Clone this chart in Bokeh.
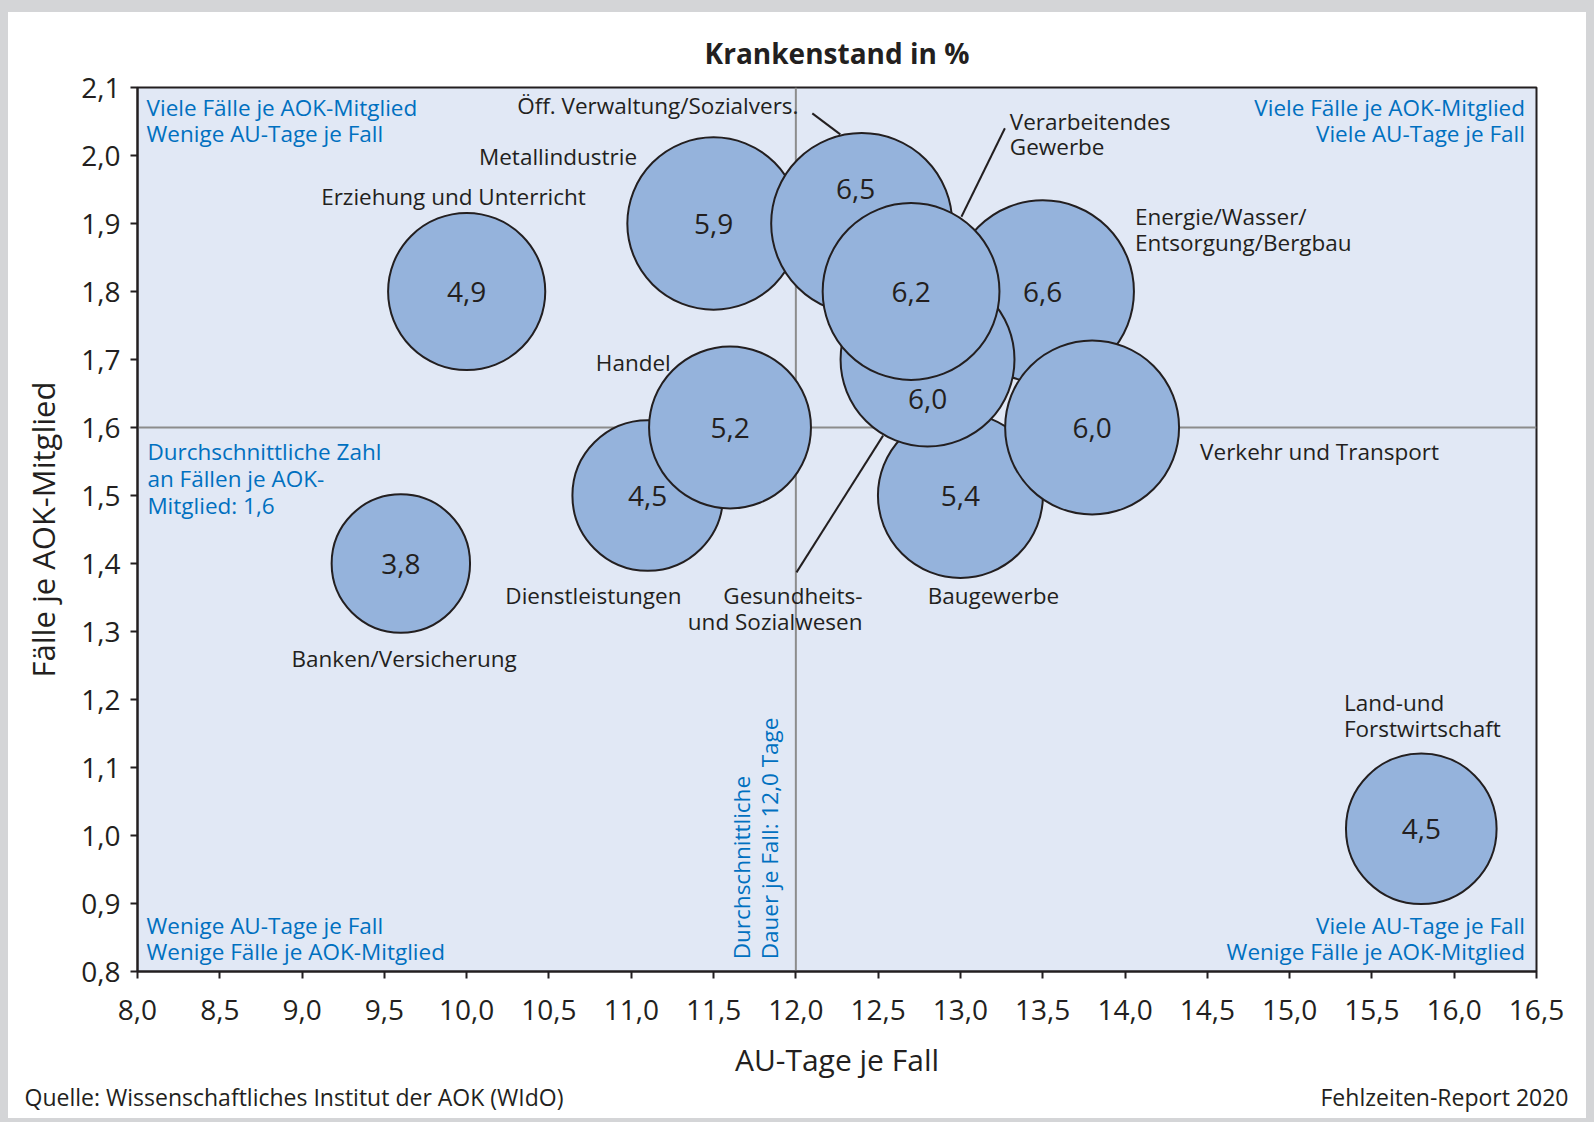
import math
from bokeh.plotting import figure
from bokeh.models import FixedTicker, ColumnDataSource, Range1d, LinearAxis
from bokeh.core.properties import value
from bokeh.embed import file_html
from bokeh.resources import INLINE

# ---------------- data ----------------
branchen = ["Banken/Versicherung", "Erziehung und Unterricht", "Metallindustrie",
            "Öff. Verwaltung/Sozialvers.", "Dienstleistungen", "Handel", "Baugewerbe",
            "Energie/Wasser/\nEntsorgung/Bergbau", "Gesundheits-\nund Sozialwesen",
            "Verkehr und Transport", "Verarbeitendes\nGewerbe", "Land-und\nForstwirtschaft"]
au_tage = [9.6, 10.0, 11.5, 12.4, 11.1, 11.6, 13.0, 13.5, 12.8, 13.8, 12.7, 15.8]
faelle = [1.4, 1.8, 1.9, 1.9, 1.5, 1.6, 1.5, 1.8, 1.7, 1.6, 1.8, 1.01]
krankenstand = [3.8, 4.9, 5.9, 6.5, 4.5, 5.2, 5.4, 6.6, 6.0, 6.0, 6.2, 4.5]

mean_au_tage = 12.0
mean_faelle = 1.6

x_ticks = [8.0, 8.5, 9.0, 9.5, 10.0, 10.5, 11.0, 11.5, 12.0, 12.5, 13.0, 13.5,
           14.0, 14.5, 15.0, 15.5, 16.0, 16.5]
x_tick_labels = ["8,0", "8,5", "9,0", "9,5", "10,0", "10,5", "11,0", "11,5", "12,0",
                 "12,5", "13,0", "13,5", "14,0", "14,5", "15,0", "15,5", "16,0", "16,5"]
y_ticks = [0.8, 0.9, 1.0, 1.1, 1.2, 1.3, 1.4, 1.5, 1.6, 1.7, 1.8, 1.9, 2.0, 2.1]
y_tick_labels = ["0,8", "0,9", "1,0", "1,1", "1,2", "1,3", "1,4", "1,5", "1,6",
                 "1,7", "1,8", "1,9", "2,0", "2,1"]

title_text = "Krankenstand in %"
x_title = "AU-Tage je Fall"
y_title = "Fälle je AOK-Mitglied"
footer_texts = ["Quelle: Wissenschaftliches Institut der AOK (WIdO)", "Fehlzeiten-Report 2020"]

# ---------------- placement (style) ----------------
lab_x = [9.62, 9.92, 10.555, 12.016, 10.77, 11.24, 13.20, 14.06, 12.405, 14.456, 13.30, 15.33]
lab_y = [1.261, 1.939, 1.999, 2.074, 1.353, 1.696, 1.353, 1.891, 1.334, 1.564, 2.0315, 1.176]
lab_align = ["center", "center", "center", "right", "center", "right", "center",
             "left", "right", "left", "left", "left"]
val_dx = [0, 0, 0, -6, 0, 0, 0, 0, 0, 0, 0, 0]
val_dy = [0, 0, 0, -35, 0, 0, 0, 0, 39, 0, 0, 0]
footer_pos = [8.951, 15.941]   # centres of the footer texts along the x scale

FONT = value("Open Sans")
DARK = "#231f20"
BLUE = "#0070c0"
FILL = "#95b3dc"
BG = "#e1e8f5"
GREY = "#8c8c8c"
FRAME = "#d4d5d7"

src = ColumnDataSource(dict(
    x=au_tage, y=faelle, v=krankenstand,
    size=[71 * math.sqrt(k) for k in krankenstand],
    vtxt=[("%.1f" % k).replace(".", ",") for k in krankenstand],
    dx=val_dx, dy=val_dy,
))
lab_src = ColumnDataSource(dict(x=lab_x, y=lab_y, t=branchen, a=lab_align))

p = figure(width=1594, height=1122, x_range=Range1d(8.0, 16.5), y_range=Range1d(0.8, 2.1),
           output_backend="svg", toolbar_location=None,
           min_border_left=137, min_border_right=58, min_border_top=87, min_border_bottom=151)
p.styles = {"background-color": "white",
            "box-shadow": "inset 8px 12px 0 0 %s, inset -8px -4px 0 0 %s" % (FRAME, FRAME)}
p.background_fill_color = BG
p.border_fill_color = None
p.outline_line_color = DARK
p.outline_line_width = 2
p.xgrid.visible = False
p.ygrid.visible = False

# title
p.title.text = title_text
p.title.align = "center"
p.title.text_font = "Open Sans"
p.title.text_font_size = "28px"
p.title.text_font_style = "bold"
p.title.text_color = DARK
p.title.standoff = 31

# axes
for ax, ticks, labels, name, fs in ((p.xaxis[0], x_ticks, x_tick_labels, x_title, "30px"),
                                    (p.yaxis[0], y_ticks, y_tick_labels, y_title, "31px")):
    ax.ticker = FixedTicker(ticks=ticks)
    ax.major_label_overrides = {t: s for t, s in zip(ticks, labels)}
    ax.minor_tick_line_color = None
    ax.major_tick_in = 0
    ax.major_tick_out = 7
    ax.major_tick_line_width = 2
    ax.major_tick_line_color = DARK
    ax.axis_line_width = 2
    ax.axis_line_color = DARK
    ax.major_label_text_font = "Open Sans"
    ax.major_label_text_font_size = "28px"
    ax.major_label_text_color = DARK
    ax.axis_label = name
    ax.axis_label_text_font = "Open Sans"
    ax.axis_label_text_font_size = fs
    ax.axis_label_text_font_style = "normal"
    ax.axis_label_text_color = DARK
p.xaxis.major_label_standoff = 21
p.yaxis.major_label_standoff = 10
p.xaxis.axis_label_standoff = 16
p.yaxis.axis_label_standoff = 14

# footer line (source / report), set as a label-only axis under the x axis
footer = LinearAxis(ticker=FixedTicker(ticks=footer_pos, minor_ticks=[]),
                    major_label_overrides={t: s for t, s in zip(footer_pos, footer_texts)})
footer.axis_line_color = None
footer.major_tick_line_color = None
footer.minor_tick_line_color = None
footer.major_tick_in = 0
footer.major_tick_out = 0
footer.major_label_standoff = -2
footer.major_label_text_font = "Open Sans"
footer.major_label_text_font_size = "23px"
footer.major_label_text_color = DARK
p.add_layout(footer, "below")

# mean lines
p.segment(x0=[mean_au_tage, 8.0], y0=[0.8, mean_faelle], x1=[mean_au_tage, 16.5],
          y1=[2.1, mean_faelle], line_color=GREY, line_width=2)

# callout lines
p.segment(x0=[12.10, 13.27, 12.53], y0=[2.062, 2.040, 1.588],
          x1=[12.27, 13.006, 12.004], y1=[2.031, 1.910, 1.387],
          line_color=DARK, line_width=2)

# bubbles
p.scatter("x", "y", size="size", source=src, fill_color=FILL, line_color=DARK, line_width=2)
p.text("x", "y", text="vtxt", source=src, x_offset="dx", y_offset="dy",
       text_align="center", text_baseline="middle", text_font=FONT,
       text_font_size="28px", text_color=DARK)

# category labels
p.text("x", "y", text="t", source=lab_src, text_align="a", text_baseline="middle",
       text_font=FONT, text_font_size="22.5px", text_color=DARK, text_line_height=0.83)

# quadrant / mean texts
blue_kw = dict(text_font=FONT, text_font_size="22.5px", text_color=BLUE,
               text_baseline="middle")
p.text(x=[8.055], y=[2.052], text=["Viele Fälle je AOK-Mitglied\nWenige AU-Tage je Fall"],
       text_align="left", text_line_height=0.845, **blue_kw)
p.text(x=[16.43], y=[2.052], text=["Viele Fälle je AOK-Mitglied\nViele AU-Tage je Fall"],
       text_align="right", text_line_height=0.845, **blue_kw)
p.text(x=[8.055], y=[0.8485], text=["Wenige AU-Tage je Fall\nWenige Fälle je AOK-Mitglied"],
       text_align="left", text_line_height=0.845, **blue_kw)
p.text(x=[16.43], y=[0.8485], text=["Viele AU-Tage je Fall\nWenige Fälle je AOK-Mitglied"],
       text_align="right", text_line_height=0.845, **blue_kw)
p.text(x=[8.06], y=[1.525], text=["Durchschnittliche Zahl\nan Fällen je AOK-\nMitglied: 1,6"],
       text_align="left", text_line_height=0.86, **blue_kw)
p.text(x=[11.755], y=[0.818], text=["Durchschnittliche\nDauer je Fall: 12,0 Tage"],
       text_align="left", angle=math.pi / 2, text_line_height=0.875, **blue_kw)

open("out.html", "w").write(file_html(p, INLINE))
